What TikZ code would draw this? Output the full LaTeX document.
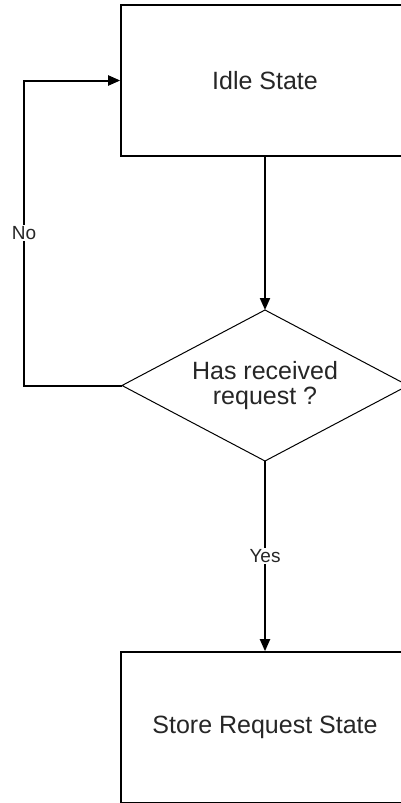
\documentclass[tikz,border=0pt]{standalone}
\usepackage{fontspec}
\setmainfont{Liberation Sans}
\usetikzlibrary{shapes.geometric,arrows.meta}
\begin{document}
\begin{tikzpicture}[x=1pt,y=-1pt,
  statebox/.style={draw=black,line width=1.6pt,minimum width=288pt,minimum height=151pt,inner sep=0pt,font=\fontsize{25}{25}\selectfont,text=black!85},
  decision/.style={draw=black,line width=1pt,shape=diamond,shape aspect=1.894,minimum width=286pt,minimum height=151pt,inner sep=0pt,outer sep=0pt,align=center,font=\fontsize{25}{25}\selectfont,text=black!85},
  conn/.style={draw=black,line width=2pt,-{Triangle[length=12pt,width=10pt]}},
  lbl/.style={fill=white,inner sep=1.5pt,font=\fontsize{19}{19}\selectfont,text=black!85}]
\clip (0,0) rectangle (401,803);
\fill[white] (0,0) rectangle (401,803);
\node[statebox] (idle) at (265,80.5) {Idle State};
\node[decision] (dec) at (265,385.5) {Has received\\request ?};
\node[statebox] (store) at (265,727.5) {Store Request State};
\coordinate (noc) at (24,385.5);
\draw[conn] (idle.south) -- (dec.north);
\draw[conn] (dec.south) -- node[lbl]{Yes} (store.north);
\draw[conn] (dec.west) -- (noc) |- node[lbl,pos=0.25]{No} (idle.west);
\end{tikzpicture}
\end{document}
